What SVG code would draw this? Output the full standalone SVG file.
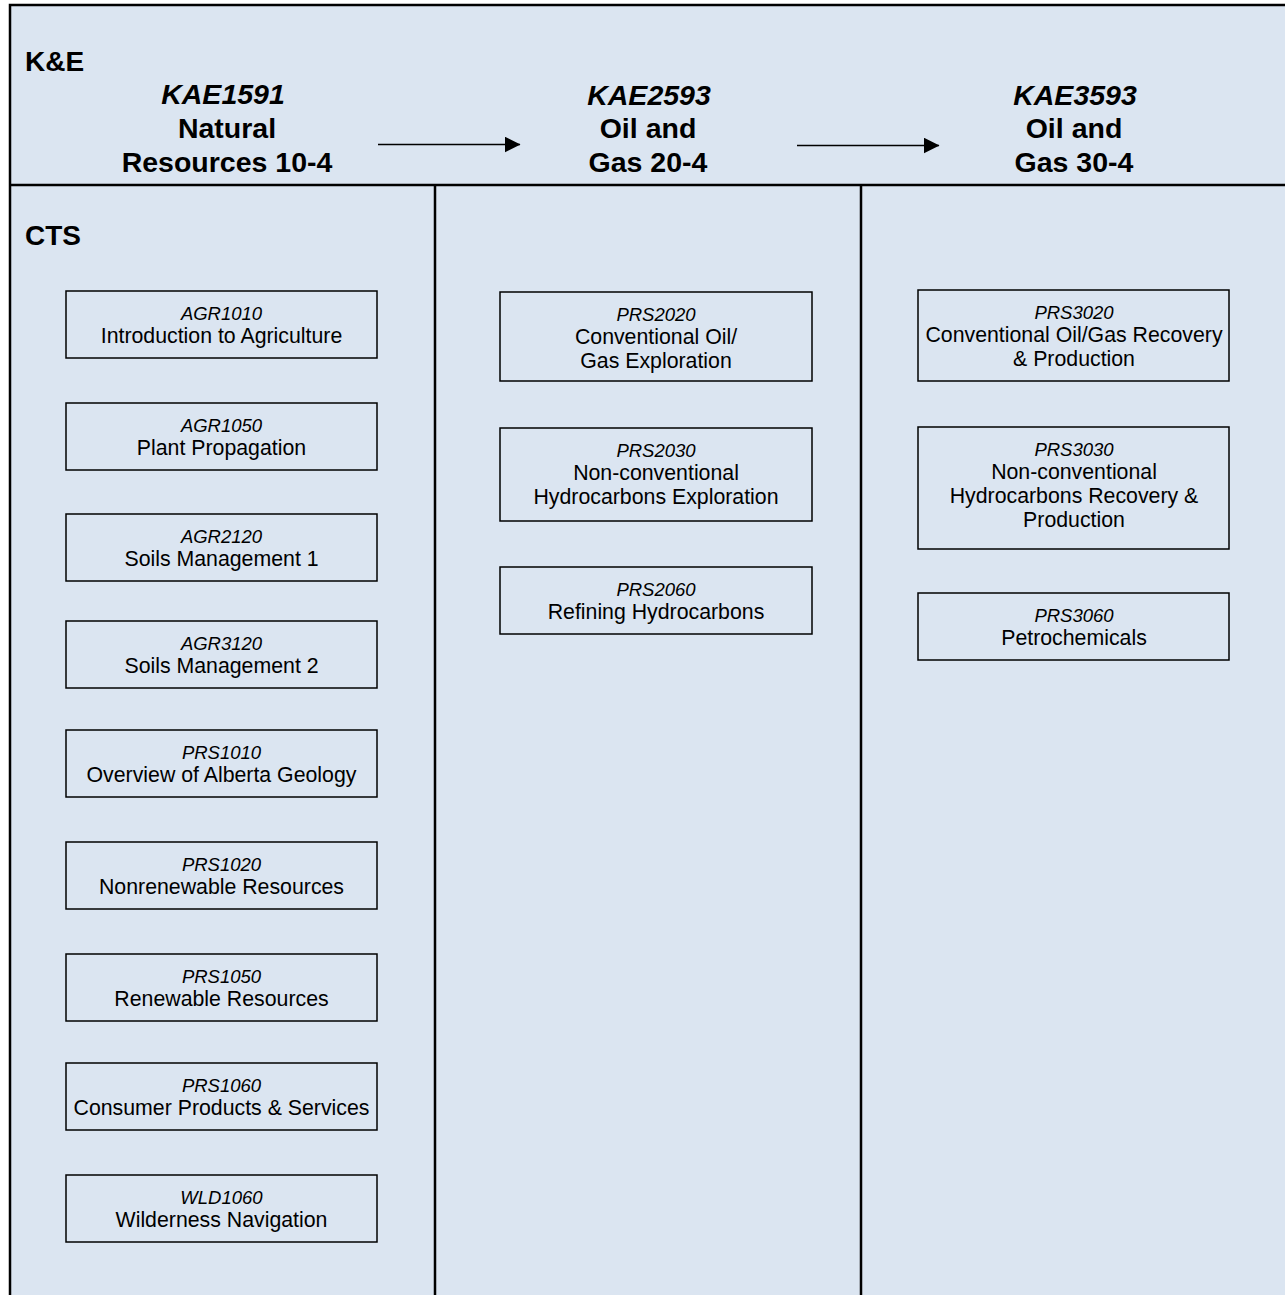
<svg xmlns="http://www.w3.org/2000/svg" width="1285" height="1295" viewBox="0 0 1285 1295">
<defs>
<style>
.frame{fill:#dbe5f1;stroke:#000;stroke-width:2.5}
.div{stroke:#000;stroke-width:2.5;fill:none}
.box{fill:none;stroke:#000;stroke-width:1.5}
.code{font-family:"Liberation Sans",Arial,sans-serif;font-style:italic;font-size:18.5px;fill:#000;text-anchor:middle}
.name{font-family:"Liberation Sans",Arial,sans-serif;font-size:21.3px;fill:#000;text-anchor:middle}
.hdr{font-family:"Liberation Sans",Arial,sans-serif;font-weight:bold;font-size:28.5px;fill:#000;text-anchor:middle}
.hdri{font-style:italic}
.lbl{font-family:"Liberation Sans",Arial,sans-serif;font-weight:bold;font-size:28px;fill:#000}
.conn{stroke:#000;stroke-width:1.4;fill:none}
</style>
<marker id="ah" markerWidth="16" markerHeight="16" refX="15.5" refY="8" orient="auto" markerUnits="userSpaceOnUse">
<path d="M0,0 L16,8 L0,16 Z" fill="#000"/>
</marker>
</defs>
<rect x="0" y="0" width="1285" height="1295" fill="#fff"/>
<rect class="frame" x="10" y="5" width="1290" height="1300"/>
<line class="div" x1="10" y1="185" x2="1290" y2="185"/>
<line class="div" x1="435" y1="185" x2="435" y2="1300"/>
<line class="div" x1="861" y1="185" x2="861" y2="1300"/>

<text class="lbl" x="25" y="71">K&amp;E</text>
<text class="lbl" x="25" y="245">CTS</text>

<g id="kae1591">
<text class="hdr hdri" x="223" y="104">KAE1591</text>
<text class="hdr" x="227" y="138">Natural</text>
<text class="hdr" x="227" y="172">Resources 10-4</text>
</g>
<g id="kae2593">
<text class="hdr hdri" x="649" y="105">KAE2593</text>
<text class="hdr" x="648" y="138">Oil and</text>
<text class="hdr" x="648" y="172">Gas 20-4</text>
</g>
<g id="kae3593">
<text class="hdr hdri" x="1075" y="105">KAE3593</text>
<text class="hdr" x="1074" y="138">Oil and</text>
<text class="hdr" x="1074" y="172">Gas 30-4</text>
</g>

<g id="connectors">
<line class="conn" x1="378" y1="144.5" x2="520" y2="144.5" marker-end="url(#ah)"/>
<line class="conn" x1="797" y1="145.5" x2="939" y2="145.5" marker-end="url(#ah)"/>
</g>

<g id="agr1010"><rect class="box" x="66" y="291" width="311" height="67"/><text class="code" x="221.5" y="320">AGR1010</text><text class="name" x="221.5" y="343">Introduction to Agriculture</text></g>
<g id="agr1050"><rect class="box" x="66" y="403" width="311" height="67"/><text class="code" x="221.5" y="432">AGR1050</text><text class="name" x="221.5" y="455">Plant Propagation</text></g>
<g id="agr2120"><rect class="box" x="66" y="514" width="311" height="67"/><text class="code" x="221.5" y="543">AGR2120</text><text class="name" x="221.5" y="566">Soils Management 1</text></g>
<g id="agr3120"><rect class="box" x="66" y="621" width="311" height="67"/><text class="code" x="221.5" y="650">AGR3120</text><text class="name" x="221.5" y="673">Soils Management 2</text></g>
<g id="prs1010"><rect class="box" x="66" y="730" width="311" height="67"/><text class="code" x="221.5" y="759">PRS1010</text><text class="name" x="221.5" y="782">Overview of Alberta Geology</text></g>
<g id="prs1020"><rect class="box" x="66" y="842" width="311" height="67"/><text class="code" x="221.5" y="871">PRS1020</text><text class="name" x="221.5" y="894">Nonrenewable Resources</text></g>
<g id="prs1050"><rect class="box" x="66" y="954" width="311" height="67"/><text class="code" x="221.5" y="983">PRS1050</text><text class="name" x="221.5" y="1006">Renewable Resources</text></g>
<g id="prs1060"><rect class="box" x="66" y="1063" width="311" height="67"/><text class="code" x="221.5" y="1092">PRS1060</text><text class="name" x="221.5" y="1115">Consumer Products &amp; Services</text></g>
<g id="wld1060"><rect class="box" x="66" y="1175" width="311" height="67"/><text class="code" x="221.5" y="1204">WLD1060</text><text class="name" x="221.5" y="1227">Wilderness Navigation</text></g>

<g id="prs2020"><rect class="box" x="500" y="292" width="312" height="89"/><text class="code" x="656" y="321">PRS2020</text><text class="name" x="656" y="344">Conventional Oil/</text><text class="name" x="656" y="368">Gas Exploration</text></g>
<g id="prs2030"><rect class="box" x="500" y="428" width="312" height="93"/><text class="code" x="656" y="457">PRS2030</text><text class="name" x="656" y="480">Non-conventional</text><text class="name" x="656" y="504">Hydrocarbons Exploration</text></g>
<g id="prs2060"><rect class="box" x="500" y="567" width="312" height="67"/><text class="code" x="656" y="596">PRS2060</text><text class="name" x="656" y="619">Refining Hydrocarbons</text></g>

<g id="prs3020"><rect class="box" x="918" y="290" width="311" height="91"/><text class="code" x="1074" y="319">PRS3020</text><text class="name" x="1074" y="342">Conventional Oil/Gas Recovery</text><text class="name" x="1074" y="366">&amp; Production</text></g>
<g id="prs3030"><rect class="box" x="918" y="427" width="311" height="122"/><text class="code" x="1074" y="456">PRS3030</text><text class="name" x="1074" y="479">Non-conventional</text><text class="name" x="1074" y="503">Hydrocarbons Recovery &amp;</text><text class="name" x="1074" y="527">Production</text></g>
<g id="prs3060"><rect class="box" x="918" y="593" width="311" height="67"/><text class="code" x="1074" y="622">PRS3060</text><text class="name" x="1074" y="645">Petrochemicals</text></g>
</svg>
